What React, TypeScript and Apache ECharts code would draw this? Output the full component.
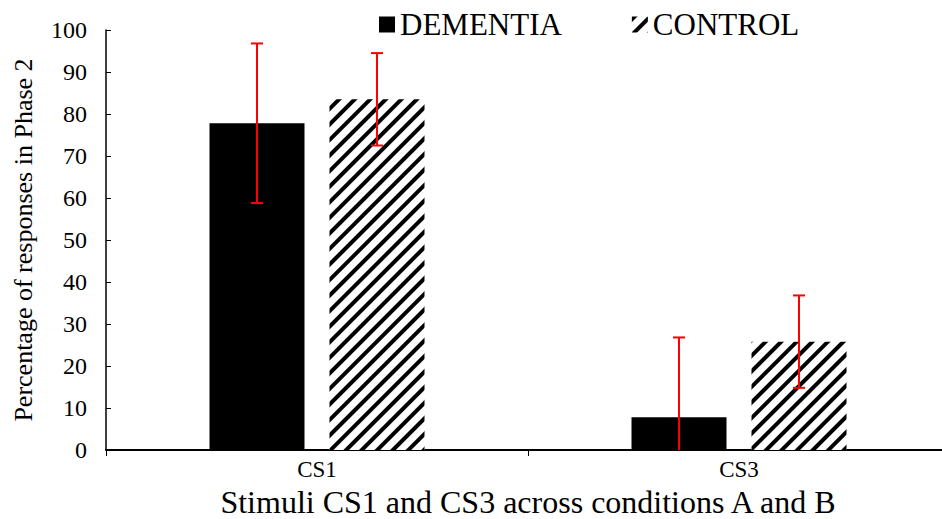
import React, { useEffect, useRef } from "react";
import * as echarts from "echarts";

const categories = ["CS1", "CS3"];
const dementiaValues = [77.8, 7.8];
const dementiaErrors = [19, 19];
const controlValues = [83.5, 25.8];
const controlErrors = [11, 11];
const yTicks = { min: 0, max: 100, interval: 10 };

const FONT = "Times New Roman";
const BAR_WIDTH = 95;
const BAR_GAP_PX = 25;

export default function App() {
  const ref = useRef<HTMLDivElement>(null);
  useEffect(() => {
    if (!ref.current) return;
    const chart = echarts.init(ref.current, undefined, { renderer: "svg" });
    const errData = [
      ...dementiaValues.map((v, i) => [i, v - dementiaErrors[i], v + dementiaErrors[i], -1]),
      ...controlValues.map((v, i) => [i, v - controlErrors[i], v + controlErrors[i], 1]),
    ];
    const option: any = {
      animation: false,
      backgroundColor: "#fff",
      textStyle: { fontFamily: FONT },
      legend: {
        left: 374,
        top: 4,
        itemWidth: 16,
        itemHeight: 16,
        itemGap: 70,
        icon: "rect",
        textStyle: { fontFamily: FONT, fontSize: 31, color: "#000" },
        data: ["DEMENTIA", "CONTROL"],
      },
      grid: { left: 106, top: 30, right: -8, bottom: 69, outerBoundsMode: "none", containLabel: false },
      xAxis: {
        type: "category",
        data: categories,
        name: "Stimuli CS1 and CS3 across conditions A and B",
        nameLocation: "middle",
        nameGap: 30,
        nameTextStyle: { fontFamily: FONT, fontSize: 32, color: "#000" },
        axisLine: { lineStyle: { color: "#000", width: 2 } },
        axisTick: { show: true, length: 6, lineStyle: { color: "#000", width: 1 } },
        axisLabel: { fontFamily: FONT, fontSize: 23, color: "#000", margin: 8 },
      },
      yAxis: {
        type: "value",
        min: yTicks.min,
        max: yTicks.max,
        interval: yTicks.interval,
        name: "Percentage of responses in Phase 2",
        nameLocation: "middle",
        nameGap: 70,
        nameTextStyle: { fontFamily: FONT, fontSize: 26, color: "#000" },
        axisLine: { show: true, lineStyle: { color: "#000", width: 1.5 } },
        axisTick: { show: true, inside: true, length: 5, lineStyle: { color: "#000", width: 1 } },
        axisLabel: { fontFamily: FONT, fontSize: 24, color: "#000", margin: 19 },
        splitLine: { show: false },
      },
      series: [
        {
          name: "DEMENTIA",
          type: "bar",
          data: dementiaValues,
          barWidth: BAR_WIDTH,
          barGap: (BAR_GAP_PX / BAR_WIDTH) * 100 + "%",
          itemStyle: { color: "#000" },
        },
        {
          name: "CONTROL",
          type: "bar",
          data: controlValues,
          barWidth: BAR_WIDTH,
          itemStyle: {
            color: "#fff",
            decal: {
              symbol: "rect",
              symbolSize: 1,
              color: "#000",
              backgroundColor: "#fff",
              dashArrayX: [1, 0],
              dashArrayY: [4, 7],
              rotation: -Math.PI / 4,
            },
          },
        },
        {
          type: "custom",
          name: "err",
          data: errData,
          clip: true,
          z: 10,
          renderItem: (params: any, api: any) => {
            const cat = api.value(0);
            const low = Math.max(0, api.value(1));
            const high = api.value(2);
            const side = api.value(3);
            const off = (side * (BAR_WIDTH + BAR_GAP_PX)) / 2;
            const top = api.coord([cat, high]);
            const bot = api.coord([cat, low]);
            const x = top[0] + off;
            const cap = 6;
            const style = { stroke: "#ff0000", lineWidth: 2 };
            const children: any[] = [
              { type: "line", shape: { x1: x, y1: top[1], x2: x, y2: bot[1] }, style },
              { type: "line", shape: { x1: x - cap, y1: top[1], x2: x + cap, y2: top[1] }, style },
            ];
            if (api.value(1) > 0) {
              children.push({ type: "line", shape: { x1: x - cap, y1: bot[1], x2: x + cap, y2: bot[1] }, style });
            }
            return { type: "group", children };
          },
        },
      ],
    };
    chart.setOption(option);
    return () => chart.dispose();
  }, []);
  return <div ref={ref} style={{ width: 942, height: 519, position: "absolute", left: 0, top: 0 }} />;
}
